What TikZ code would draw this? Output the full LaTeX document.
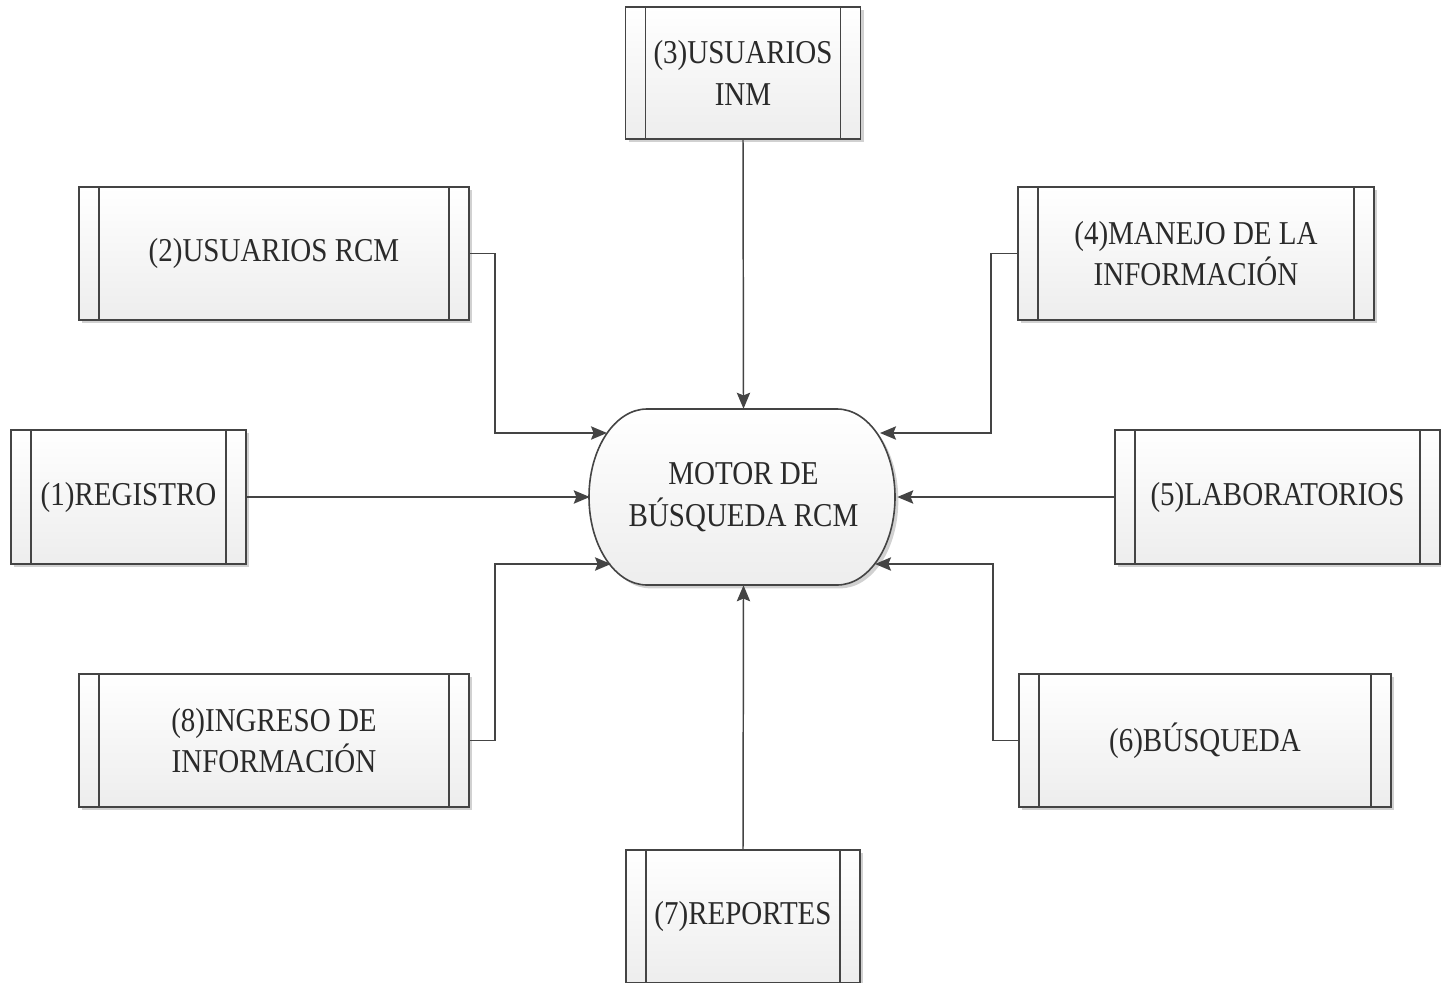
\documentclass[tikz,border=0pt]{standalone}
\usepackage{fontspec}
\setmainfont{Liberation Serif}[FakeStretch=0.87]
\usetikzlibrary{arrows.meta,shadows}
\definecolor{lc}{HTML}{444444}
\definecolor{tc}{HTML}{2A2A2A}
\tikzset{
  sz/.style 2 args={minimum width=#1*0.75pt, minimum height=#2*0.75pt},
  proc/.style={draw=lc, line width=1.2pt, top color=white, bottom color=black!7,
    inner sep=0pt, align=center, text=tc,
    font=\fontsize{25pt}{31pt}\selectfont,
    drop shadow={shadow xshift=2.5pt, shadow yshift=-2.5pt, opacity=0.18, fill=black},
    path picture={
      \draw[lc, line width=1.2pt]
        ([xshift=15pt]path picture bounding box.north west) --
        ([xshift=15pt]path picture bounding box.south west);
      \draw[lc, line width=1.2pt]
        ([xshift=-15pt]path picture bounding box.north east) --
        ([xshift=-15pt]path picture bounding box.south east);
    }},
  term/.style={draw=lc, line width=1.2pt, top color=white, bottom color=black!7,
    drop shadow={shadow xshift=2.5pt, shadow yshift=-2.5pt, opacity=0.18, fill=black}},
  arr/.style={draw=lc, line width=1.1pt, -{Stealth[length=12pt, width=10pt, inset=2pt]}}
}
\begin{document}
\begin{tikzpicture}[x=0.75pt, y=-0.75pt]
\useasboundingbox (0,0) rectangle (1441,982);
\fill[white] (0,0) rectangle (1441,982);

% central terminator
\path[term] (647,409) -- (837,409)
  arc[start angle=-90, end angle=90, x radius=58, y radius=88]
  -- (647,585)
  arc[start angle=90, end angle=270, x radius=58, y radius=88] -- cycle;
\node[sz={307}{176}, inner sep=0pt, align=center, text=tc,
  font=\fontsize{25pt}{31pt}\selectfont] (m) at (743.5,497) {MOTOR DE\\BÚSQUEDA RCM};
\coordinate (mnw) at (607,433);
\coordinate (mne) at (880,433);
\coordinate (msw) at (611,564);
\coordinate (mse) at (875,564);

% process boxes
\node[proc, sz={235}{134}] (b1) at (128.5,497) {(1)REGISTRO};
\node[proc, sz={390}{133}] (b2) at (274,253.5) {(2)USUARIOS RCM};
\node[proc, sz={235}{132}] (b3) at (743,73) {(3)USUARIOS\\INM};
\node[proc, sz={356}{133}] (b4) at (1196,253.5) {(4)MANEJO DE LA\\INFORMACIÓN};
\node[proc, sz={325}{134}] (b5) at (1277.5,497) {(5)LABORATORIOS};
\node[proc, sz={372}{133}] (b6) at (1205,740.5) {(6)BÚSQUEDA};
\node[proc, sz={234}{133}] (b7) at (743,916.5) {(7)REPORTES};
\node[proc, sz={390}{133}] (b8) at (274,740.5) {(8)INGRESO DE\\INFORMACIÓN};

% connectors
\draw[arr] (b3.south) -- (m.north);
\draw[arr] (b7.north) -- (m.south);
\draw[arr] (b1.east) -- (m.west);
\draw[arr] (b5.west) -- (m.east);
\draw[arr] (b2.east) -- ++(25,0) |- (mnw);
\draw[arr] (b4.west) -- ++(-26,0) |- (mne);
\draw[arr] (b8.east) -- ++(25,0) |- (msw);
\draw[arr] (b6.west) -- ++(-25,0) |- (mse);
\end{tikzpicture}
\end{document}
